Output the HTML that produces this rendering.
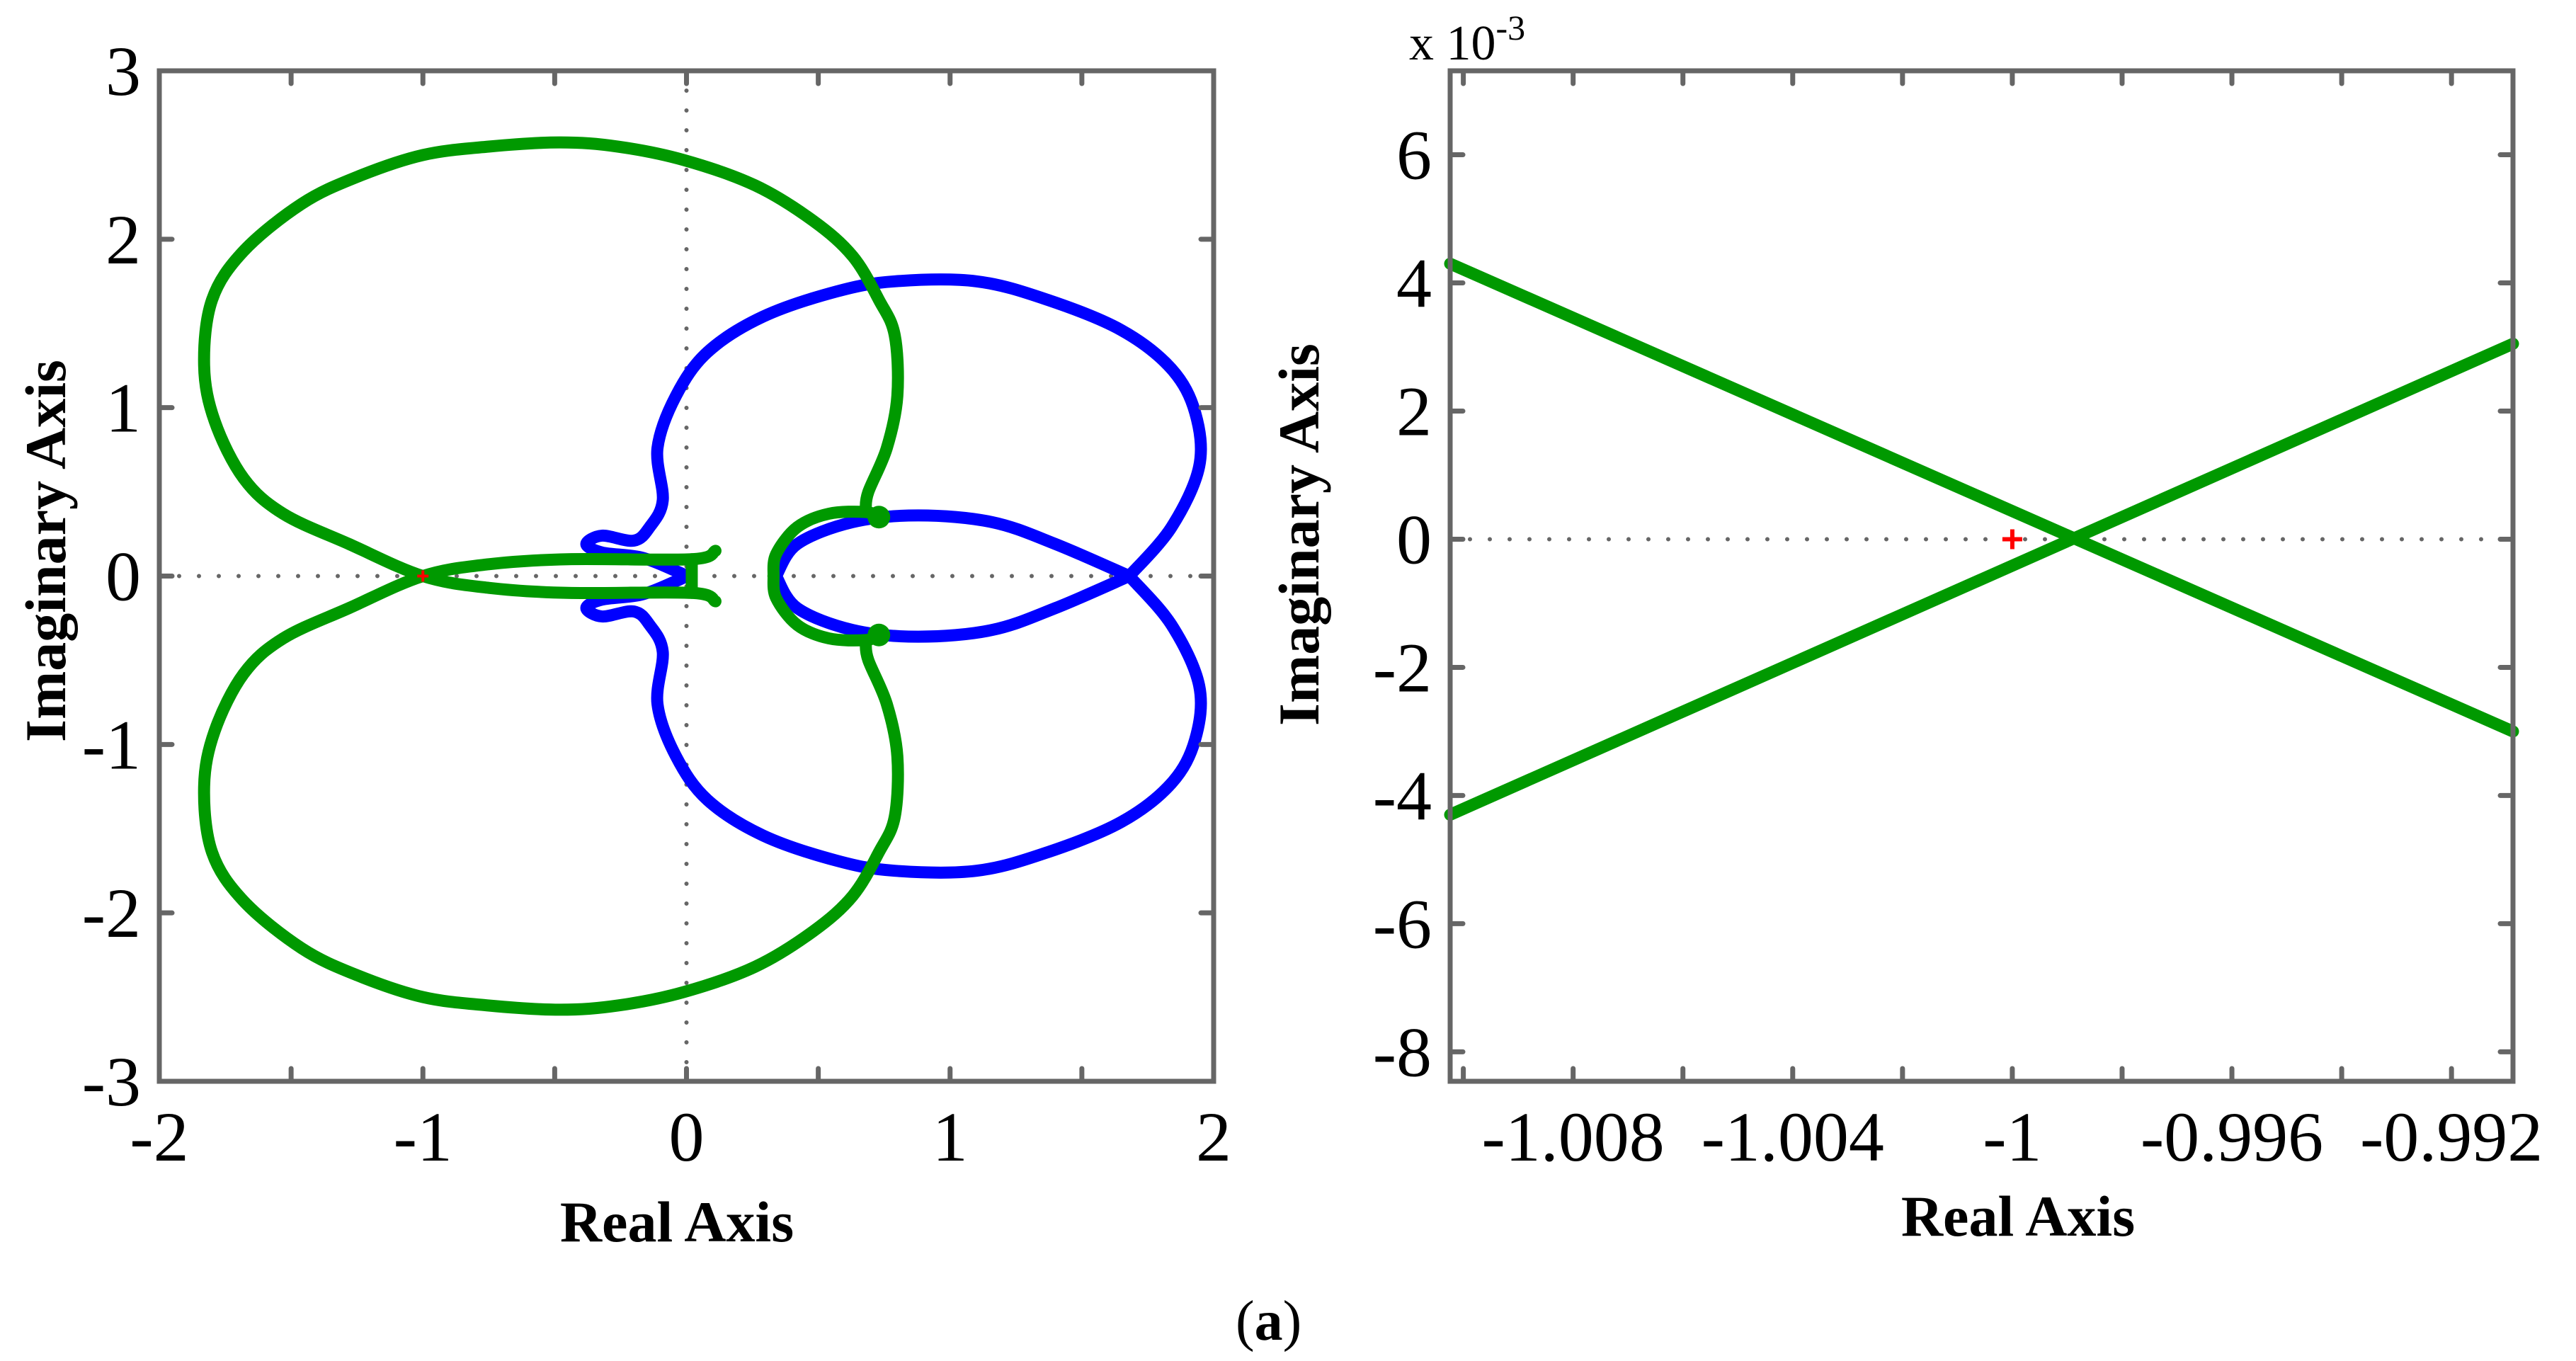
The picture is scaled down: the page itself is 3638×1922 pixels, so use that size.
<!DOCTYPE html>
<html><head><meta charset="utf-8"><style>
html,body{margin:0;padding:0;background:#fff;}
svg{display:block;font-family:"Liberation Serif",serif;}
</style></head><body>
<svg id="fig" width="3638" height="1922" viewBox="0 0 3638 1922" xmlns="http://www.w3.org/2000/svg">
<g id="left"></g>
<g id="right"></g>
<text x="1745" y="1892" font-size="80">(<tspan font-weight="bold">a</tspan>)</text>
</svg>
<script>
// ---- left chart data ----
const leftXTicks=[-2,-1.5,-1,-0.5,0,0.5,1,1.5,2];
const leftXLabels=["-2","","-1","","0","","1","","2"];
const leftYTicks=[-3,-2,-1,0,1,2,3];
const leftYLabels=["-3","-2","-1","0","1","2","3"];
// blue outer upper branch (real, imag)
const blueOuterRe=[1.68,1.84,1.945,1.93,1.84,1.65,1.37,1.10,0.79,0.57,0.29,0.08,-0.04,-0.11,-0.09,-0.14,-0.2,-0.32,-0.38,-0.32,-0.17,-0.04,0];
const blueOuterIm=[0,0.29,0.65,0.97,1.23,1.46,1.64,1.75,1.75,1.69,1.54,1.33,1.07,0.76,0.45,0.29,0.21,0.24,0.19,0.14,0.11,0.03,0];
// blue inner upper branch
const blueInnerRe=[1.68,1.4,1.16,0.88,0.63,0.42,0.34];
const blueInnerIm=[0,0.19,0.32,0.36,0.32,0.19,0];
// green upper lobe (continues across real axis into lower stub)
const greenLobeRe=[0.68,0.69,0.76,0.80,0.79,0.73,0.63,0.48,0.26,-0.01,-0.26,-0.48,-0.75,-1.0,-1.25,-1.46,-1.68,-1.80,-1.83,-1.79,-1.68,-1.53,-1.28,-1.0,-0.75,-0.45,0.02,0.11];
const greenLobeIm=[0.40,0.50,0.76,1.07,1.43,1.64,1.90,2.11,2.32,2.47,2.55,2.575,2.55,2.50,2.37,2.21,1.93,1.64,1.25,0.92,0.58,0.37,0.19,0,-0.07,-0.1,-0.1,-0.15];
// green inner upper branch
const greenInnerRe=[0.73,0.68,0.54,0.42,0.34,0.33];
const greenInnerIm=[0.35,0.38,0.37,0.29,0.13,0];
// green stub connector near origin
const greenStubRe=[0.02,0.02];
const greenStubIm=[0.1,-0.1];

// ---- right chart data ----
const rightXTicks=[-1.010,-1.008,-1.006,-1.004,-1.002,-1.000,-0.998,-0.996,-0.994,-0.992];
const rightXLabels=["","-1.008","","-1.004","","-1","","-0.996","","-0.992"];
const rightYTicks=[-8,-6,-4,-2,0,2,4,6];
const rightYLabels=["-8","-6","-4","-2","0","2","4","6"];
const line1Re=[-1.01024,-0.99088];
const line1Im=[4.3,-3.0];
const line2Re=[-1.01024,-0.99088];
const line2Im=[-4.3,3.05];
const poleRe=[-1.0];
const poleIm=[0];

const NS="http://www.w3.org/2000/svg";
function mk(parent,tag,attrs){const e=document.createElementNS(NS,tag);for(const k in attrs)e.setAttribute(k,attrs[k]);parent.appendChild(e);return e;}

function axes(box,xr,yr){
  const sx=v=>box.x0+(v-xr[0])/(xr[1]-xr[0])*(box.x1-box.x0);
  const sy=v=>box.y1-(v-yr[0])/(yr[1]-yr[0])*(box.y1-box.y0);
  return {sx,sy};
}
function smoothPath(re,im,sx,sy,mirror){
  const p=re.map((r,i)=>[sx(r),sy(mirror?-im[i]:im[i])]);
  if(p.length<3) return "M"+p.map(q=>q.join(",")).join(" L");
  let d="M"+p[0][0]+","+p[0][1];
  for(let i=0;i<p.length-1;i++){
    const p0=p[Math.max(0,i-1)],p1=p[i],p2=p[i+1],p3=p[Math.min(p.length-1,i+2)];
    const c1=[p1[0]+(p2[0]-p0[0])/6,p1[1]+(p2[1]-p0[1])/6];
    const c2=[p2[0]-(p3[0]-p1[0])/6,p2[1]-(p3[1]-p1[1])/6];
    d+=" C"+c1[0]+","+c1[1]+" "+c2[0]+","+c2[1]+" "+p2[0]+","+p2[1];
  }
  return d;
}

function drawFrame(g,box,sx,sy,xt,xl,yt,yl,name){
  xt.forEach((v,i)=>{
    const x=sx(v);
    const t1=mk(g,"line",{x1:x,y1:box.y1,x2:x,y2:box.y1-18,stroke:"#666","stroke-width":7,"stroke-linecap":"round"});
    
    
    const t2=mk(g,"line",{x1:x,y1:box.y0,x2:x,y2:box.y0+18,stroke:"#666","stroke-width":7,"stroke-linecap":"round"});
    
    
    if(xl[i]){const t=mk(g,"text",{x:x,y:box.y1+112,"font-size":100,"text-anchor":"middle"});t.textContent=xl[i];
      
      }
  });
  yt.forEach((v,i)=>{
    const y=sy(v);
    const t1=mk(g,"line",{x1:box.x0,y1:y,x2:box.x0+18,y2:y,stroke:"#666","stroke-width":7,"stroke-linecap":"round"});
    
    
    const t2=mk(g,"line",{x1:box.x1,y1:y,x2:box.x1-18,y2:y,stroke:"#666","stroke-width":7,"stroke-linecap":"round"});
    
    
    const t=mk(g,"text",{x:box.x0-26,y:y+34,"font-size":100,"text-anchor":"end"});t.textContent=yl[i];
    
    
  });
  const r=mk(g,"rect",{x:box.x0,y:box.y0,width:box.x1-box.x0,height:box.y1-box.y0,fill:"none",stroke:"#666","stroke-width":7});
  
  
}
function curve(g,re,im,sx,sy,mirror,color,name){
  const p=mk(g,"path",{d:smoothPath(re,im,sx,sy,mirror),fill:"none",stroke:color,"stroke-width":17,"stroke-linejoin":"round","stroke-linecap":"round"});
  
  
}
function plus(g,x,y,s,w){
  const p=mk(g,"path",{d:`M${x-s},${y} H${x+s} M${x},${y-s} V${y+s}`,stroke:"#ff0000","stroke-width":w,fill:"none"});
  
  
}

// ---- left ----
(function(){
  const g=document.getElementById("left");
  const box={x0:225,x1:1714,y0:100,y1:1527};
  const {sx,sy}=axes(box,[-2,2],[-3,3]);
  const d1=mk(g,"line",{x1:box.x0,y1:sy(0),x2:box.x1,y2:sy(0),stroke:"#666","stroke-width":6,"stroke-dasharray":"0 28","stroke-linecap":"round"});
  
  
  const d2=mk(g,"line",{x1:sx(0),y1:box.y0,x2:sx(0),y2:box.y1,stroke:"#666","stroke-width":6,"stroke-dasharray":"0 28","stroke-linecap":"round"});
  
  
  curve(g,blueOuterRe,blueOuterIm,sx,sy,false,"#0000ff","blue-locus-outer-upper");
  curve(g,blueOuterRe,blueOuterIm,sx,sy,true,"#0000ff","blue-locus-outer-lower");
  curve(g,blueInnerRe,blueInnerIm,sx,sy,false,"#0000ff","blue-locus-inner-upper");
  curve(g,blueInnerRe,blueInnerIm,sx,sy,true,"#0000ff","blue-locus-inner-lower");
  curve(g,greenLobeRe,greenLobeIm,sx,sy,false,"#009900","green-locus-upper-lobe");
  curve(g,greenLobeRe,greenLobeIm,sx,sy,true,"#009900","green-locus-lower-lobe");
  curve(g,greenInnerRe,greenInnerIm,sx,sy,false,"#009900","green-locus-inner-upper");
  curve(g,greenInnerRe,greenInnerIm,sx,sy,true,"#009900","green-locus-inner-lower");
  curve(g,greenStubRe,greenStubIm,sx,sy,false,"#009900","green-locus-stub");
  [[0.73,0.35],[0.73,-0.35]].forEach(p=>{const c=mk(g,"circle",{cx:sx(p[0]),cy:sy(p[1]),r:16,fill:"#009900"});
    
    });
  plus(g,sx(poleRe[0]),sy(poleIm[0]),8,4);
  drawFrame(g,box,sx,sy,leftXTicks,leftXLabels,leftYTicks,leftYLabels,"left");
  const xt=mk(g,"text",{x:956,y:1753,"font-size":82,"font-weight":"bold","text-anchor":"middle"});xt.textContent="Real Axis";
  
  
  const yt=mk(g,"text",{x:0,y:0,"font-size":82,"font-weight":"bold","text-anchor":"middle",transform:"translate(92,778) rotate(-90)"});yt.textContent="Imaginary Axis";
  
  
})();

// ---- right ----
(function(){
  const g=document.getElementById("right");
  const box={x0:2048,x1:3549,y0:100,y1:1527};
  const {sx,sy}=axes(box,[-1.01024,-0.99088],[-8.46,7.31]);
  const d1=mk(g,"line",{x1:box.x0,y1:sy(0),x2:box.x1,y2:sy(0),stroke:"#666","stroke-width":6,"stroke-dasharray":"0 28","stroke-linecap":"round"});
  
  
  curve(g,line1Re,line1Im,sx,sy,false,"#009900","green-locus-branch-1");
  curve(g,line2Re,line2Im,sx,sy,false,"#009900","green-locus-branch-2");
  plus(g,sx(poleRe[0]),sy(poleIm[0]),14,6);
  drawFrame(g,box,sx,sy,rightXTicks,rightXLabels,rightYTicks,rightYLabels,"right");
  const ex=mk(g,"text",{x:1990,y:84,"font-size":70});ex.innerHTML='x 10<tspan dy="-28" font-size="50">-3</tspan>';
  
  
  const xt=mk(g,"text",{x:2850,y:1745,"font-size":82,"font-weight":"bold","text-anchor":"middle"});xt.textContent="Real Axis";
  
  
  const yt=mk(g,"text",{x:0,y:0,"font-size":82,"font-weight":"bold","text-anchor":"middle",transform:"translate(1862,755) rotate(-90)"});yt.textContent="Imaginary Axis";
  
  
})();
</script>
</body></html>
